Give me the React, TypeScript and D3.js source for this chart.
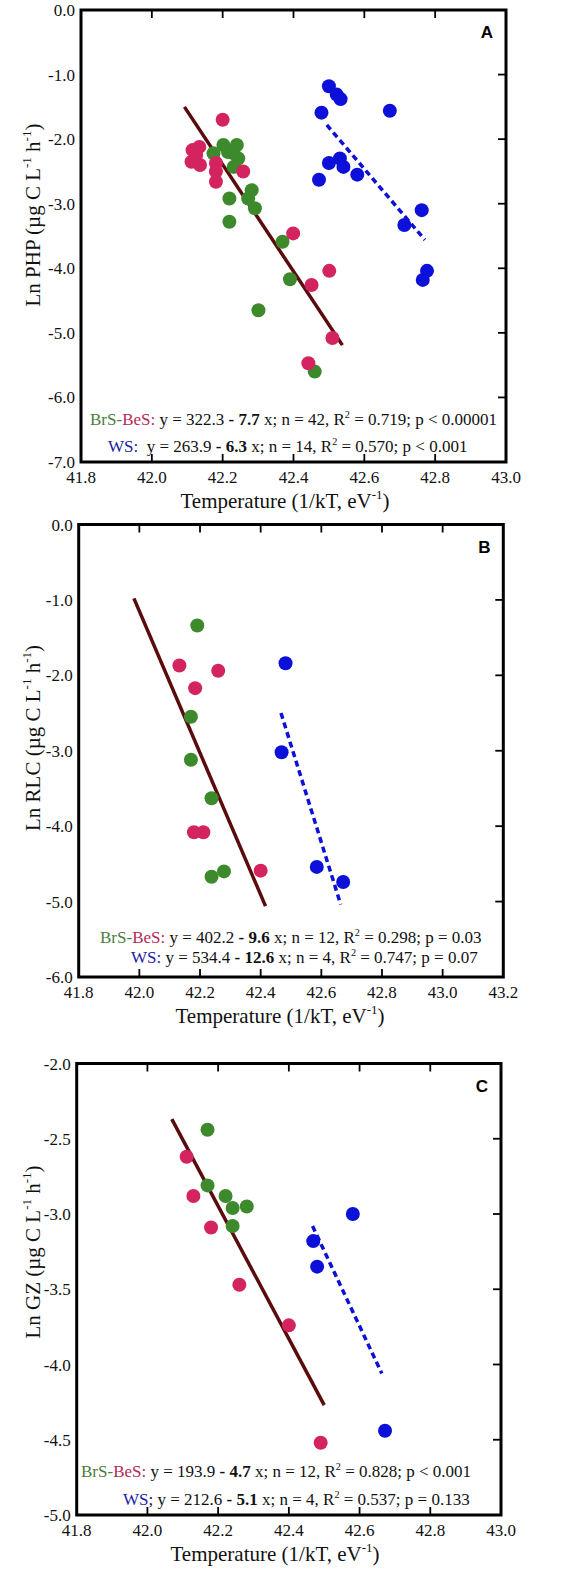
import React from 'react';
import * as d3 from 'd3';

// ---------- colours ----------
const GREEN = '#3d8a2c';
const PINK = '#d3245f';
const BLUE = '#0c10d8';
const BROWN = '#5a0b0b';
const GREEN_TXT = '#4b7d3d';
const PINK_TXT = '#b52a58';
const BLUE_TXT = '#1c1ca6';

// ---------- Panel A : PHP ----------
const phpXTicks = [41.8, 42.0, 42.2, 42.4, 42.6, 42.8, 43.0];
const phpYTicks = [0, -1, -2, -3, -4, -5, -6, -7];
const phpBrS: [number, number][] = [
  [42.174, -2.22], [42.215, -2.2], [42.202, -2.09], [42.240, -2.09], [42.231, -2.22],
  [42.244, -2.30], [42.231, -2.43], [42.219, -2.92], [42.282, -2.79], [42.272, -2.92],
  [42.291, -3.07], [42.219, -3.28], [42.369, -3.59], [42.390, -4.17], [42.301, -4.65],
  [42.460, -5.60],
];
const phpBeS: [number, number][] = [
  [42.200, -1.70], [42.115, -2.17], [42.134, -2.12], [42.112, -2.35], [42.136, -2.40],
  [42.125, -2.25], [42.181, -2.37], [42.181, -2.66], [42.181, -2.5], [42.258, -2.50],
  [42.399, -3.46], [42.501, -4.04], [42.451, -4.26], [42.442, -5.47], [42.510, -5.08],
];
const phpWS: [number, number][] = [
  [42.500, -1.18], [42.522, -1.31], [42.533, -1.38], [42.479, -1.59], [42.672, -1.56],
  [42.500, -2.37], [42.531, -2.30], [42.541, -2.43], [42.580, -2.55], [42.472, -2.63],
  [42.762, -3.10], [42.713, -3.33], [42.777, -4.04], [42.765, -4.18],
];
const phpFitBB: [number, number][] = [[42.092, -1.50], [42.538, -5.19]];
const phpFitWS: [number, number][] = [[42.494, -1.78], [42.771, -3.56]];

// ---------- Panel B : RLC ----------
const rlcXTicks = [41.8, 42.0, 42.2, 42.4, 42.6, 42.8, 43.0, 43.2];
const rlcYTicks = [0, -1, -2, -3, -4, -5, -6];
const rlcBrS: [number, number][] = [
  [42.191, -1.34], [42.170, -2.55], [42.170, -3.12], [42.238, -3.63], [42.238, -4.67], [42.279, -4.60],
];
const rlcBeS: [number, number][] = [
  [42.132, -1.87], [42.260, -1.94], [42.184, -2.17], [42.180, -4.08], [42.211, -4.08], [42.400, -4.59],
];
const rlcWS: [number, number][] = [
  [42.482, -1.84], [42.469, -3.02], [42.585, -4.54], [42.672, -4.74],
];
const rlcFitBB: [number, number][] = [[41.982, -0.98], [42.416, -5.06]];
const rlcFitWS: [number, number][] = [[42.467, -2.50], [42.664, -5.04]];

// ---------- Panel C : GZ ----------
const gzXTicks = [41.8, 42.0, 42.2, 42.4, 42.6, 42.8, 43.0];
const gzYTicks = [-2.0, -2.5, -3.0, -3.5, -4.0, -4.5, -5.0];
const gzBrS: [number, number][] = [
  [42.170, -2.44], [42.170, -2.81], [42.221, -2.88], [42.241, -2.96], [42.281, -2.95], [42.241, -3.08],
];
const gzBeS: [number, number][] = [
  [42.111, -2.62], [42.130, -2.88], [42.180, -3.09], [42.260, -3.47], [42.400, -3.74], [42.490, -4.52],
];
const gzWS: [number, number][] = [
  [42.469, -3.18], [42.480, -3.35], [42.581, -3.00], [42.672, -4.44],
];
const gzFitBB: [number, number][] = [[42.069, -2.37], [42.500, -4.27]];
const gzFitWS: [number, number][] = [[42.467, -3.08], [42.663, -4.06]];

type Seg = { t: string; c?: string; b?: boolean; sup?: boolean };

const annA1: Seg[] = [
  { t: 'BrS-', c: GREEN_TXT }, { t: 'BeS:', c: PINK_TXT }, { t: ' y = 322.3 ' }, { t: '- 7.7', b: true },
  { t: ' x; n = 42, R' }, { t: '2', sup: true }, { t: ' = 0.719; p < 0.00001' },
];
const annA2: Seg[] = [
  { t: 'WS:', c: BLUE_TXT }, { t: '  y = 263.9 ' }, { t: '- 6.3', b: true },
  { t: ' x; n = 14, R' }, { t: '2', sup: true }, { t: ' = 0.570; p < 0.001' },
];
const annB1: Seg[] = [
  { t: 'BrS-', c: GREEN_TXT }, { t: 'BeS:', c: PINK_TXT }, { t: ' y = 402.2 ' }, { t: '- 9.6', b: true },
  { t: ' x; n = 12, R' }, { t: '2', sup: true }, { t: ' = 0.298; p = 0.03' },
];
const annB2: Seg[] = [
  { t: 'WS:', c: BLUE_TXT }, { t: ' y = 534.4 ' }, { t: '- 12.6', b: true },
  { t: ' x; n = 4, R' }, { t: '2', sup: true }, { t: ' = 0.747; p = 0.07' },
];
const annC1: Seg[] = [
  { t: 'BrS-', c: GREEN_TXT }, { t: 'BeS:', c: PINK_TXT }, { t: ' y = 193.9 ' }, { t: '- 4.7', b: true },
  { t: ' x; n = 12, R' }, { t: '2', sup: true }, { t: ' = 0.828; p < 0.001' },
];
const annC2: Seg[] = [
  { t: 'WS', c: BLUE_TXT }, { t: '; y = 212.6 ' }, { t: '- 5.1', b: true },
  { t: ' x; n = 4, R' }, { t: '2', sup: true }, { t: ' = 0.537; p = 0.133' },
];

const SERIF = '"Liberation Serif", "Times New Roman", serif';
const SANS = '"Liberation Sans", Arial, sans-serif';

function RichText({ x, y, segs, size }: { x: number; y: number; segs: Seg[]; size: number }) {
  const out: React.ReactNode[] = [];
  let prevSup = false;
  segs.forEach((s, i) => {
    let dy = 0;
    if (s.sup) dy = -size * 0.42;
    else if (prevSup) dy = size * 0.42;
    out.push(
      <tspan key={i} dy={dy || undefined} fill={s.c || '#111'} fontWeight={s.b ? 'bold' : 'normal'}
        fontSize={s.sup ? size * 0.6 : size} style={{ whiteSpace: 'pre' }}>
        {s.t}
      </tspan>
    );
    prevSup = !!s.sup;
  });
  return (
    <text x={x} y={y} fontFamily={SERIF} fontSize={size} style={{ whiteSpace: 'pre' }}>
      {out}
    </text>
  );
}

type PanelProps = {
  xDomain: [number, number];
  yDomain: [number, number];
  xRange: [number, number];
  yRange: [number, number];
  xTicks: number[];
  yTicks: number[];
  green: [number, number][];
  pink: [number, number][];
  blue: [number, number][];
  fitBB: [number, number][];
  fitWS: [number, number][];
  letter: string;
  yTitle: string;
  yTitleCenter: number;
  xTitleX: number;
  ann1: Seg[];
  ann2: Seg[];
  ann1Pos: [number, number];
  ann2Pos: [number, number];
};

function Panel(p: PanelProps) {
  const x = d3.scaleLinear().domain(p.xDomain).range(p.xRange);
  const y = d3.scaleLinear().domain(p.yDomain).range(p.yRange);
  const line = d3.line<[number, number]>().x(d => x(d[0])).y(d => y(d[1]));
  const [x0, x1] = p.xRange;
  const [y0, y1] = p.yRange;
  const tickLen = 8;
  return (
    <g>
      {/* fit lines */}
      <path d={line(p.fitBB) || ''} stroke={BROWN} strokeWidth={3.5} fill="none" />
      <path d={line(p.fitWS) || ''} stroke={BLUE} strokeWidth={3.5} fill="none" strokeDasharray="6,4" />
      {/* points */}
      {p.green.map((d, i) => (
        <circle key={'g' + i} cx={x(d[0])} cy={y(d[1])} r={7} fill={GREEN} />
      ))}
      {p.pink.map((d, i) => (
        <circle key={'p' + i} cx={x(d[0])} cy={y(d[1])} r={7} fill={PINK} />
      ))}
      {p.blue.map((d, i) => (
        <circle key={'b' + i} cx={x(d[0])} cy={y(d[1])} r={7} fill={BLUE} />
      ))}
      {/* frame */}
      <rect x={x0} y={y0} width={x1 - x0} height={y1 - y0} fill="none" stroke="#000" strokeWidth={3} />
      {p.xTicks.slice(1, -1).map((t, i) => (
        <g key={'xt' + i}>
          <line x1={x(t)} x2={x(t)} y1={y0} y2={y0 + tickLen} stroke="#000" strokeWidth={1.8} />
          <line x1={x(t)} x2={x(t)} y1={y1} y2={y1 - tickLen} stroke="#000" strokeWidth={1.8} />
        </g>
      ))}
      {p.yTicks.slice(1, -1).map((t, i) => (
        <line key={'yt' + i} x1={x1} x2={x1 - tickLen} y1={y(t)} y2={y(t)} stroke="#000" strokeWidth={1.8} />
      ))}
      {/* tick labels */}
      {p.xTicks.map((t, i) => (
        <text key={'xl' + i} x={x(t)} y={y1 + 21} textAnchor="middle" fontFamily={SERIF} fontSize={17} fill="#111">
          {t.toFixed(1)}
        </text>
      ))}
      {p.yTicks.map((t, i) => (
        <text key={'yl' + i} x={x0 - 6} y={y(t) + 6} textAnchor="end" fontFamily={SERIF} fontSize={17} fill="#111">
          {t.toFixed(1)}
        </text>
      ))}
      {/* titles */}
      <text x={p.xTitleX} y={y1 + 46} textAnchor="middle" fontFamily={SERIF} fontSize={21} fill="#111">
        Temperature (1/kT, eV<tspan dy={-9} fontSize={13}>-1</tspan><tspan dy={9}>)</tspan>
      </text>
      <text transform={`translate(40,${p.yTitleCenter}) rotate(-90)`} textAnchor="middle" fontFamily={SERIF} fontSize={21} fill="#111">
        {p.yTitle} (µg C L<tspan dy={-9} fontSize={13}>-1</tspan><tspan dy={9}> h</tspan><tspan dy={-9} fontSize={13}>-1</tspan><tspan dy={9}>)</tspan>
      </text>
      <text x={x1 - 19} y={y0 + 28} textAnchor="middle" fontFamily={SANS} fontWeight="bold" fontSize={17} fill="#000">
        {p.letter}
      </text>
      <RichText x={p.ann1Pos[0]} y={p.ann1Pos[1]} segs={p.ann1} size={17} />
      <RichText x={p.ann2Pos[0]} y={p.ann2Pos[1]} segs={p.ann2} size={17} />
    </g>
  );
}

export default function App() {
  return (
    <svg width={567} height={1582} style={{ position: 'absolute', left: 0, top: 0, background: '#fff' }}>
      <rect x={0} y={0} width={567} height={1582} fill="#fff" />
      <Panel
        xDomain={[41.8, 43.0]} yDomain={[0, -7]} xRange={[81, 506]} yRange={[10, 462]}
        xTicks={phpXTicks} yTicks={phpYTicks}
        green={phpBrS} pink={phpBeS} blue={phpWS} fitBB={phpFitBB} fitWS={phpFitWS}
        letter="A" yTitle="Ln PHP" yTitleCenter={215} xTitleX={285}
        ann1={annA1} ann2={annA2} ann1Pos={[90, 425]} ann2Pos={[108, 452]}
      />
      <Panel
        xDomain={[41.8, 43.2]} yDomain={[0, -6]} xRange={[78.7, 503.3]} yRange={[524.5, 977]}
        xTicks={rlcXTicks} yTicks={rlcYTicks}
        green={rlcBrS} pink={rlcBeS} blue={rlcWS} fitBB={rlcFitBB} fitWS={rlcFitWS}
        letter="B" yTitle="Ln RLC" yTitleCenter={738} xTitleX={280}
        ann1={annB1} ann2={annB2} ann1Pos={[100, 943]} ann2Pos={[131, 963]}
      />
      <Panel
        xDomain={[41.8, 43.0]} yDomain={[-2, -5]} xRange={[76.7, 501]} yRange={[1063.5, 1515]}
        xTicks={gzXTicks} yTicks={gzYTicks}
        green={gzBrS} pink={gzBeS} blue={gzWS} fitBB={gzFitBB} fitWS={gzFitWS}
        letter="C" yTitle="Ln GZ" yTitleCenter={1252} xTitleX={275}
        ann1={annC1} ann2={annC2} ann1Pos={[81, 1477]} ann2Pos={[123, 1505]}
      />
    </svg>
  );
}
